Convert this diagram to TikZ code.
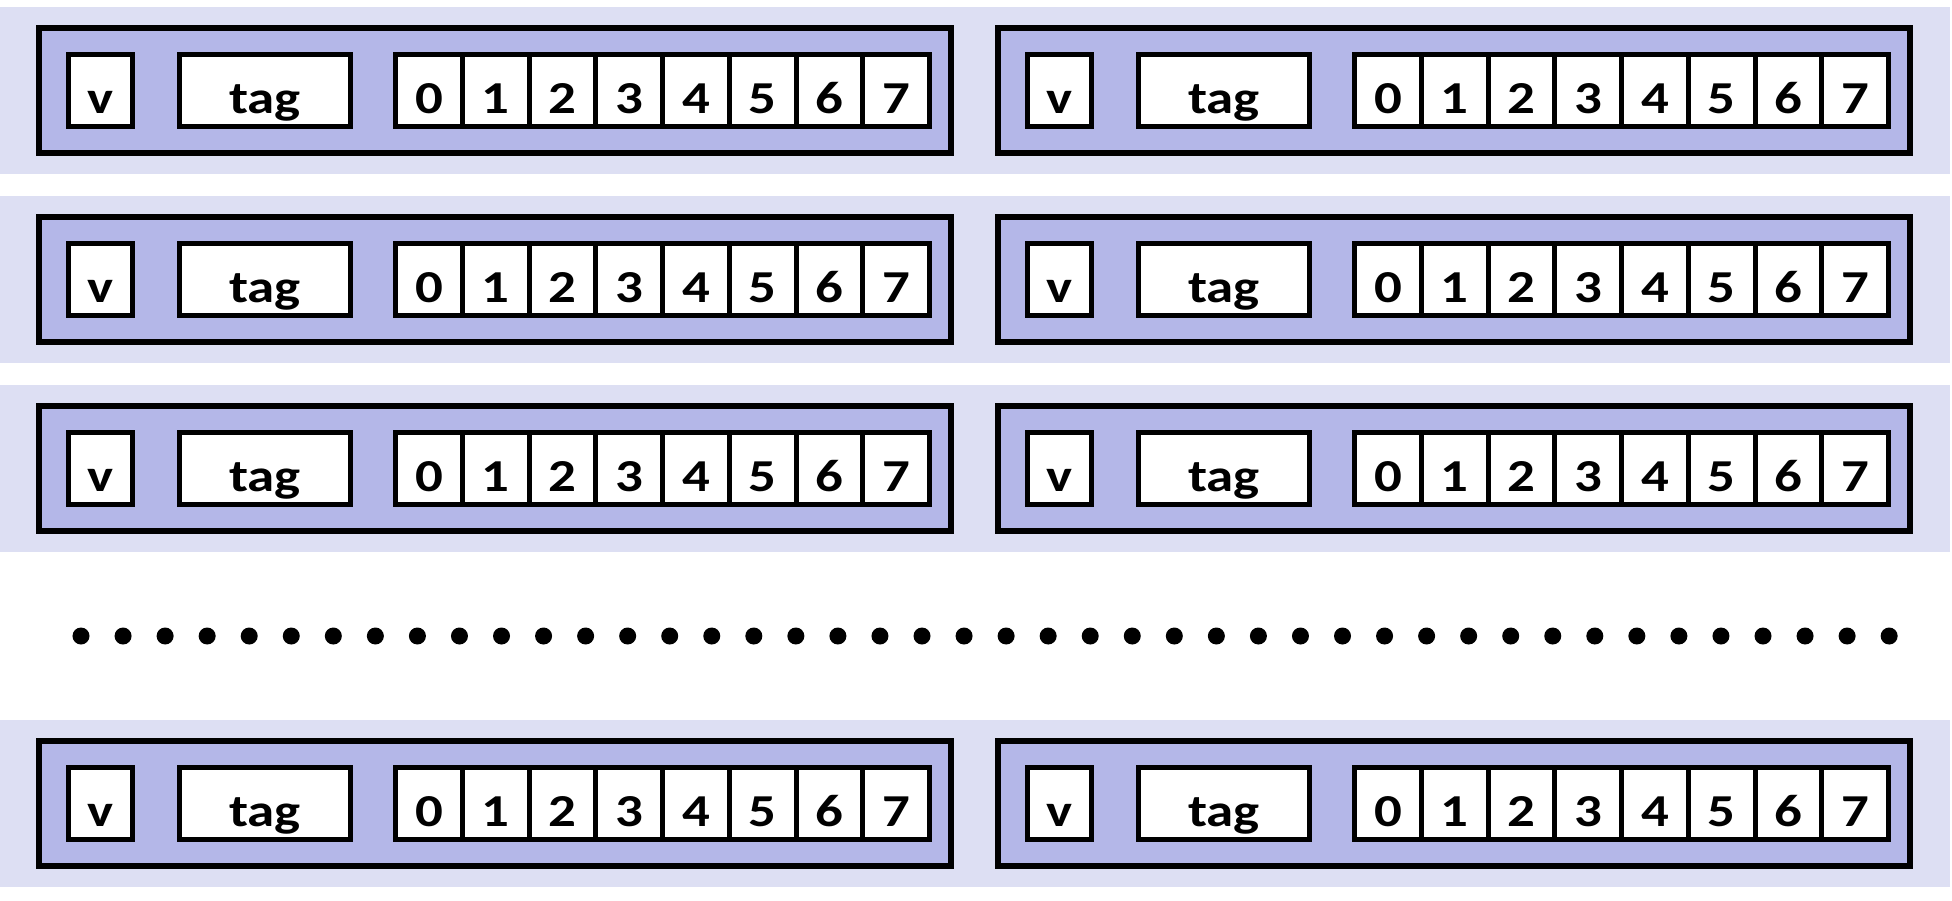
\documentclass[tikz,border=0pt]{standalone}
\usepackage{fontspec}
\setmainfont{Carlito}
\usepackage{tikz}
\usepackage{graphicx}
\definecolor{rowlav}{RGB}{221,223,243}
\definecolor{setblue}{RGB}{180,183,232}
\newcommand{\wide}[1]{\scalebox{1.2}[1]{#1}}
\tikzset{
    lineblock/.style={draw=black, fill=setblue, line width=0.06cm, inner sep=0pt,
        minimum width=9.12cm, minimum height=1.25cm},
    field/.style={draw=black, fill=white, line width=0.05cm, inner sep=0pt,
        minimum height=0.71cm, text height=0.46cm, text depth=0cm,
        font=\fontsize{13}{15}\selectfont\bfseries}
}

\begin{document}
\begin{tikzpicture}[x=0.01cm, y=-0.01cm]
    \useasboundingbox (0,0) rectangle (1952,900);
    \foreach \r/\ty in {1/28,2/217,3/406,4/741}{
        \fill[rowlav] (0,\ty-21) rectangle (1950,\ty+146);
        \foreach \c/\lx in {1/39,2/998}{
            \node[lineblock] (set-\r-\c) at (\lx+456,\ty+62.5) {};
            \node[field, minimum width=0.64cm] (valid-\r-\c) at (\lx+61.5,\ty+62.5) {\wide{v}};
            \node[field, minimum width=1.71cm] (tag-\r-\c) at (\lx+226,\ty+62.5) {\wide{tag}};
            \foreach \k in {0,...,7}{
                \node[field, minimum width=0.6675cm] (byte-\r-\c-\k) at (\lx+390+66.75*\k,\ty+62.5) {\wide{\k}};
            }
        }
    }
    \foreach \i in {0,...,43}{
        \fill[black] (81+42.05*\i,636) circle (0.085cm);
    }
\end{tikzpicture}
\end{document}
